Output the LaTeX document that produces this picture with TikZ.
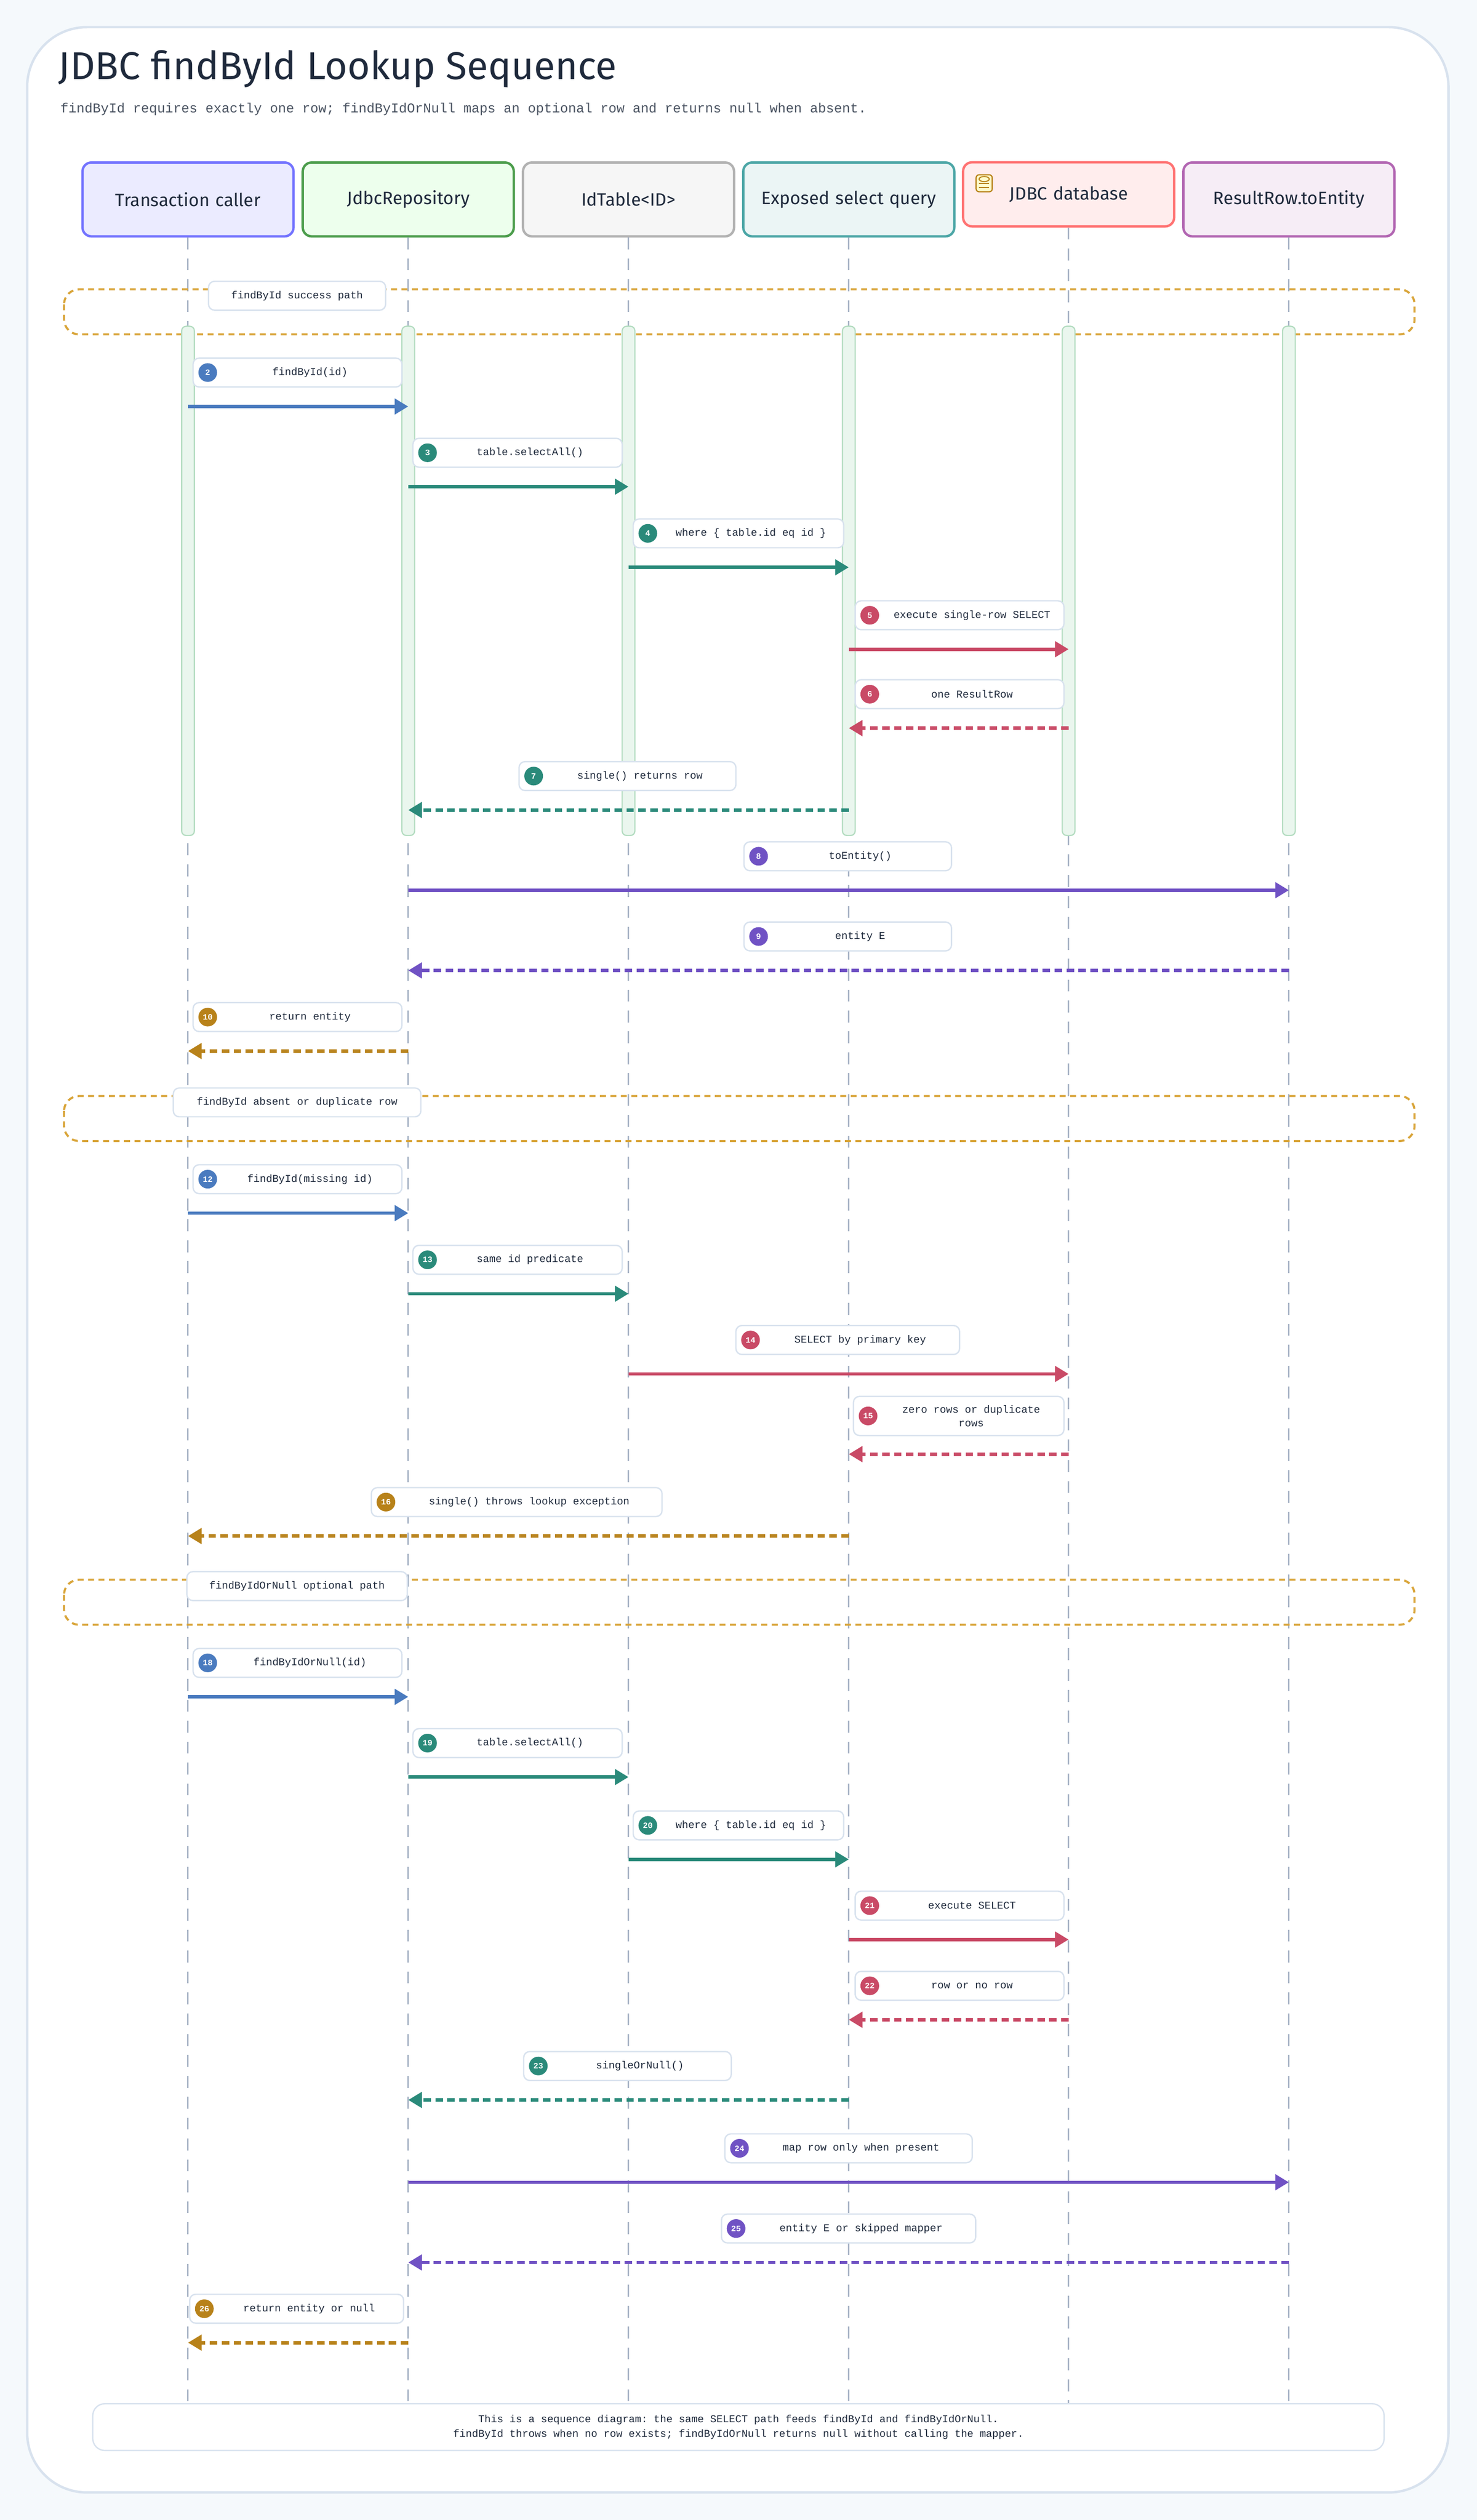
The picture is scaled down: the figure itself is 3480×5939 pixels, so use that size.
\documentclass[tikz,border=0pt]{standalone}
\usepackage{fontspec}
\setmainfont{Fira Sans}
\setmonofont{Liberation Mono}
\usepackage{tikz}
\usetikzlibrary{arrows.meta, positioning, calc}

\definecolor{pagebg}{HTML}{F5F9FC}
\definecolor{panelln}{HTML}{D8E2EE}
\definecolor{inkc}{HTML}{1F2A3C}
\definecolor{lifeln}{HTML}{A8B4C6}
\definecolor{cblue}{HTML}{4A7BBF}
\definecolor{cteal}{HTML}{2A8A7A}
\definecolor{cred}{HTML}{C94A66}
\definecolor{cpurp}{HTML}{7052C4}
\definecolor{cgold}{HTML}{B8821A}
\definecolor{grpln}{HTML}{D9A53A}
\definecolor{actfill}{HTML}{EAF6EE}
\definecolor{actln}{HTML}{B3DCC0}

\newcommand\callmsg[9]{%
  \pgfmathsetmacro\bw{(#8-#7)*0.01}
  \coordinate (s#1) at (#2 |- 0,#4);
  \coordinate (e#1) at (#3 |- 0,#4);
  \node[lblbox, minimum width=\bw cm] (l#1) at ({(#7+#8)/2},#4-80) {};
  \node[badge, fill=#5] (b#1) at ([xshift=0.36cm]l#1.west) {#1};
  \node[lbltext] at ($(b#1.east)!0.5!(l#1.east)$) {#9};
  \draw[#6, draw=#5] (s#1) -- (e#1);
}

\begin{document}
\begin{tikzpicture}[
    x=0.01cm, y=-0.01cm,
    head/.style={draw, line width=1.6pt, rounded corners=6pt, minimum width=4.97cm,
                 minimum height=1.74cm, align=center, text width=4.2cm,
                 font=\fontsize{12}{15}\selectfont, text=inkc},
    lblbox/.style={draw=panelln, line width=0.9pt, fill=white, rounded corners=4pt,
                   minimum height=0.68cm},
    badge/.style={circle, inner sep=0pt, minimum size=0.44cm, text=white,
                  font=\ttfamily\fontsize{5.5}{6}\selectfont\bfseries},
    lbltext/.style={font=\ttfamily\fontsize{7}{9}\selectfont, text=inkc, align=center},
    call/.style={line width=2.3pt, -{Triangle[length=0.32cm, width=0.36cm]}},
    back/.style={call, dash pattern=on 5pt off 3pt},
    grp/.style={draw=grpln, line width=1.4pt, dash pattern=on 4pt off 3pt, rounded corners=10pt},
    grplbl/.style={draw=panelln, line width=0.9pt, fill=white, rounded corners=4pt,
                   minimum height=0.68cm, font=\ttfamily\fontsize{7}{9}\selectfont, text=inkc},
    act/.style={draw=actln, fill=actfill, line width=0.8pt, rounded corners=3pt},
  ]

  % Page and panel
  \fill[pagebg] (0,0) rectangle (3480,5939);
  \draw[panelln, line width=1.6pt, fill=white, rounded corners=40pt] (64,64) rectangle (3413,5874);

  % Title
  \node[anchor=west, font=\fontsize{26}{30}\selectfont, text=inkc] (title) at (125,163)
    {JDBC findById Lookup Sequence};
  \node[anchor=west, font=\ttfamily\fontsize{9}{11}\selectfont, text=inkc!80] (subtitle) at (130,257)
    {findById requires exactly one row; findByIdOrNull maps an optional row and returns null when absent.};

  % Participants
  \node[head, fill=blue!8, draw=blue!55] (caller) at (443,470) {Transaction caller};
  \node[head, fill=green!7, draw=green!45!black!70] (repo) at (962,470) {JdbcRepository};
  \node[head, fill=gray!7, draw=gray!60] (idtab) at (1481,470) {IdTable<ID>};
  \node[head, fill=teal!8, draw=teal!70] (query) at (2000,470) {Exposed select query};
  \node[head, fill=red!7, draw=red!55, minimum height=1.51cm] (db) at (2518,458) {JDBC database};
  \node[head, fill=violet!7, draw=violet!60] (result) at (3037,470) {ResultRow.toEntity};

  % Database icon
  \draw[cgold, fill=yellow!20, line width=0.8pt, rounded corners=2pt] (2300,412) rectangle (2338,452);
  \draw[cgold, line width=0.7pt] (2319,422) ellipse (12 and 6);
  \draw[cgold, line width=0.7pt] (2307,432) -- (2331,432) (2307,442) -- (2331,442);

  % Lifelines
  \foreach \p in {caller, repo, idtab, query, result}
    \draw[lifeln, line width=1pt, dash pattern=on 8pt off 6pt] (\p.south) -- (\p |- 0,5673);
  \draw[lifeln, line width=1pt, dash pattern=on 8pt off 6pt] (db.south) -- (db |- 0,5673);

  % Groups
  \draw[grp] (151,682) rectangle (3333,788);
  \node[grplbl, minimum width=4.17cm] (g1) at (700,697) {findById success path};
  \draw[grp] (151,2583) rectangle (3333,2689);
  \node[grplbl, minimum width=5.83cm] (g2) at (700,2598) {findById absent or duplicate row};
  \draw[grp] (151,3723) rectangle (3333,3829);
  \node[grplbl, minimum width=5.19cm] (g3) at (700,3738) {findByIdOrNull optional path};

  % Activation bars
  \foreach \p in {caller, repo, idtab, query, db, result}
    \draw[act] ($(\p |- 0,769)+(-15,0)$) rectangle ($(\p |- 0,1969)+(15,0)$);

  % Success path
  \callmsg{2}{caller}{repo}{958}{cblue}{call}{455}{947}{findById(id)}
  \callmsg{3}{repo}{idtab}{1147}{cteal}{call}{973}{1466}{table.selectAll()}
  \callmsg{4}{idtab}{query}{1337}{cteal}{call}{1492}{1988}{where \{ table.id eq id \}}
  \callmsg{5}{query}{db}{1530}{cred}{call}{2015}{2507}{execute single-row SELECT}
  \callmsg{6}{db}{query}{1716}{cred}{back}{2015}{2507}{one ResultRow}
  \callmsg{7}{query}{repo}{1909}{cteal}{back}{1223}{1734}{single() returns row}
  \callmsg{8}{repo}{result}{2098}{cpurp}{call}{1753}{2242}{toEntity()}
  \callmsg{9}{result}{repo}{2287}{cpurp}{back}{1753}{2242}{entity E}
  \callmsg{10}{repo}{caller}{2477}{cgold}{back}{455}{947}{return entity}

  % Absent or duplicate row
  \callmsg{12}{caller}{repo}{2859}{cblue}{call}{455}{947}{findById(missing id)}
  \callmsg{13}{repo}{idtab}{3049}{cteal}{call}{973}{1466}{same id predicate}
  \callmsg{14}{idtab}{db}{3238}{cred}{call}{1734}{2261}{SELECT by primary key}
  \pgfmathsetmacro\bw{(2507-2011)*0.01}
  \node[lblbox, minimum width=\bw cm, minimum height=0.92cm] (l15) at (2259,3337) {};
  \node[badge, fill=cred] (b15) at ([xshift=0.36cm]l15.west) {15};
  \node[lbltext] at ($(b15.east)!0.5!(l15.east)$) {zero rows or duplicate\\rows};
  \coordinate (s15) at (db |- 0,3427);
  \coordinate (e15) at (query |- 0,3427);
  \draw[back, draw=cred] (s15) -- (e15);
  \callmsg{16}{query}{caller}{3620}{cgold}{back}{875}{1560}{single() throws lookup exception}

  % Optional path
  \callmsg{18}{caller}{repo}{3999}{cblue}{call}{455}{947}{findByIdOrNull(id)}
  \callmsg{19}{repo}{idtab}{4188}{cteal}{call}{973}{1466}{table.selectAll()}
  \callmsg{20}{idtab}{query}{4382}{cteal}{call}{1492}{1988}{where \{ table.id eq id \}}
  \callmsg{21}{query}{db}{4571}{cred}{call}{2015}{2507}{execute SELECT}
  \callmsg{22}{db}{query}{4760}{cred}{back}{2015}{2507}{row or no row}
  \callmsg{23}{query}{repo}{4949}{cteal}{back}{1234}{1723}{singleOrNull()}
  \callmsg{24}{repo}{result}{5143}{cpurp}{call}{1708}{2291}{map row only when present}
  \callmsg{25}{result}{repo}{5332}{cpurp}{back}{1700}{2299}{entity E or skipped mapper}
  \callmsg{26}{repo}{caller}{5521}{cgold}{back}{447}{951}{return entity or null}

  % Footer
  \node[draw=panelln, line width=0.9pt, fill=white, rounded corners=8pt,
        minimum width=30.41cm, minimum height=1.1cm, align=center,
        font=\ttfamily\fontsize{7}{10}\selectfont, text=inkc] (footer) at (1740,5720)
    {This is a sequence diagram: the same SELECT path feeds findById and findByIdOrNull.\\
     findById throws when no row exists; findByIdOrNull returns null without calling the mapper.};

\end{tikzpicture}
\end{document}
